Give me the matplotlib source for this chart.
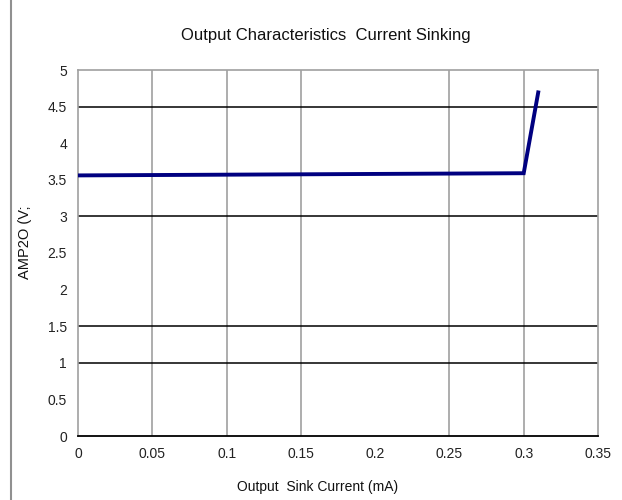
import matplotlib
matplotlib.use('Agg')
import matplotlib.pyplot as plt
from matplotlib.lines import Line2D

# data
sink_current = [0.0, 0.05, 0.1, 0.15, 0.2, 0.25, 0.3, 0.31]
amp2o_volts = [3.56, 3.565, 3.57, 3.575, 3.58, 3.585, 3.59, 4.72]

x_ticks = [0, 0.05, 0.1, 0.15, 0.2, 0.25, 0.3, 0.35]
x_tick_labels = ['0', '0.05', '0.1', '0.15', '0.2', '0.25', '0.3', '0.35']
y_ticks = [0, 0.5, 1, 1.5, 2, 2.5, 3, 3.5, 4, 4.5, 5]
y_tick_labels = ['0', '0.5', '1', '1.5', '2', '2.5', '3', '3.5', '4', '4.5', '5']
x_grid = [0.05, 0.1, 0.15, 0.25, 0.3]
y_grid = [1, 1.5, 3, 4.5]

plt.rcParams['font.family'] = ['Liberation Sans', 'DejaVu Sans']

fig = plt.figure(figsize=(6.22, 5), dpi=100)
ax = fig.add_axes([0.1254, 0.128, 0.836, 0.732])

for xv in x_grid:
    ax.axvline(xv, color='#a0a0a0', lw=1.2, zorder=1)
for yv in y_grid:
    ax.axhline(yv, color='black', lw=1.1, zorder=1)

ax.plot(sink_current, amp2o_volts, color='#000080', lw=2.8, zorder=3,
        solid_capstyle='butt', solid_joinstyle='miter')

ax.set_xlim(0, 0.35)
ax.set_ylim(0, 5)
ax.set_xticks(x_ticks)
ax.set_xticklabels(x_tick_labels)
ax.set_yticks(y_ticks)
ax.set_yticklabels(y_tick_labels)
ax.tick_params(length=0, labelsize=10, colors='#222222', pad=8)

for side in ['top', 'right', 'left']:
    ax.spines[side].set_color('#a0a0a0')
    ax.spines[side].set_linewidth(1.2)
ax.spines['bottom'].set_color('black')
ax.spines['bottom'].set_linewidth(1.3)

# titles placed as in the reference (slightly left of the plot centre)
fig.text(326 / 622, 1 - 35 / 500, 'Output Characteristics  Current Sinking',
         fontsize=12, ha='center', va='center', color='#111111')
fig.text(318 / 622, 1 - 487 / 500, 'Output  Sink Current (mA)',
         fontsize=10, ha='center', va='center', color='#111111')
fig.text(25 / 622, 1 - 242 / 500, 'AMP2O (V;', fontsize=10.5,
         rotation=90, ha='center', va='center', color='#111111')

# page border line at the left edge
fig.add_artist(Line2D([0.017, 0.017], [0.0, 1.0], color='#909090', lw=1.5,
                      transform=fig.transFigure))

fig.savefig('out.png', dpi=100)
